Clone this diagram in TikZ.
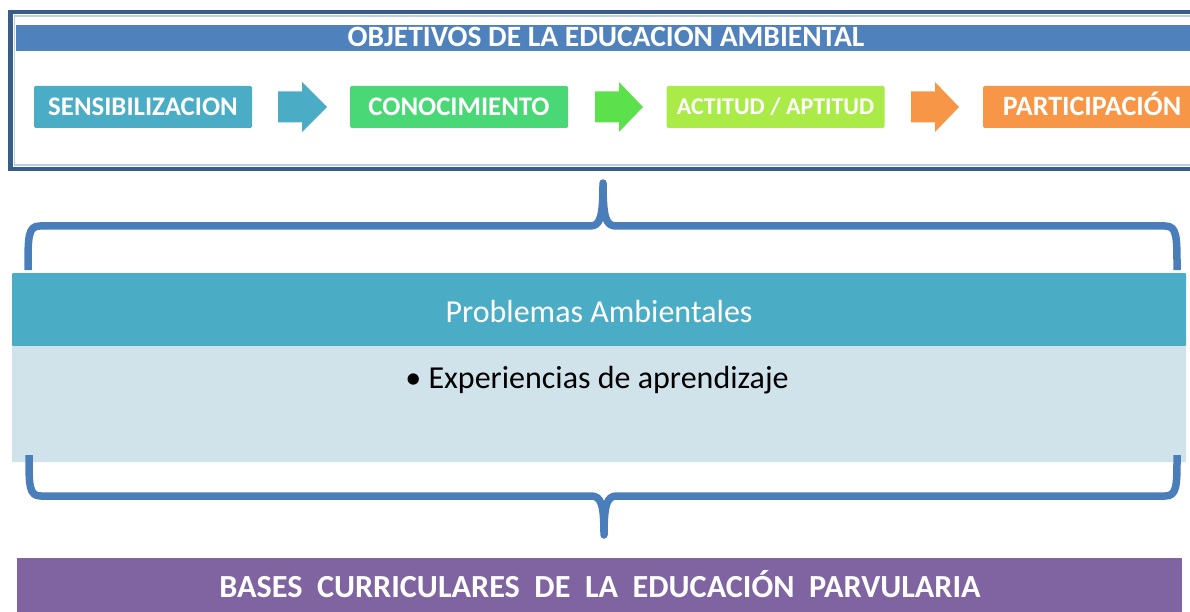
\documentclass[tikz,border=0pt]{standalone}
\usepackage{fontspec}
\setmainfont{Carlito}
\definecolor{frameblue}{HTML}{385D8A}
\definecolor{framelight}{HTML}{B9CDE5}
\definecolor{headblue}{HTML}{4F81BD}
\definecolor{teal}{HTML}{4BACC6}
\definecolor{cgreen}{HTML}{4AD775}
\definecolor{agreen}{HTML}{5CE04B}
\definecolor{lgreen}{HTML}{ABEB48}
\definecolor{orange}{HTML}{F79646}
\definecolor{bracecol}{HTML}{4A7EBB}
\definecolor{lightbox}{HTML}{D0E3EA}
\definecolor{purple}{HTML}{8064A2}
\begin{document}
\begin{tikzpicture}[x=1pt,y=-1pt,
  objbox/.style={rounded corners=1.5pt, inner sep=0pt, text=white,
    minimum width=218pt, minimum height=42pt, text height=17pt, text depth=0pt,
    font=\fontsize{26.8}{30}\selectfont\bfseries},
  bracepath/.style={draw=bracecol, line width=7.5pt, line join=round}
]
\useasboundingbox (0,0) rectangle (1190,612);
\clip (0,0) rectangle (1190,612);
% outer frame
\draw[framelight, line width=1.5pt] (14.5,16) rectangle (1210,165);
\draw[frameblue, line width=4.5pt] (10.5,12) rectangle (1210,169);
% header
\node[fill=headblue, inner sep=0pt, minimum width=1180pt, minimum height=26pt] (head) at (606,38) {};
\node[anchor=base, text=white, inner sep=0pt,
  font=\fontsize{29.5}{34}\selectfont\bfseries] (headt) at (606,47) {OBJETIVOS DE LA EDUCACION AMBIENTAL};
% objective boxes
\node[objbox, fill=teal] (sens) at (143,107) {SENSIBILIZACION};
\node[objbox, fill=cgreen] (cono) at (459,107) {CONOCIMIENTO};
\node[objbox, fill=lgreen, text height=15pt, font=\fontsize{24}{28}\selectfont\bfseries] (acti) at (775.5,107) {ACTITUD / APTITUD};
\node[objbox, fill=orange, font=\fontsize{28}{32}\selectfont\bfseries] (part) at (1092,107) {PARTICIPACIÓN};
% block arrows
\fill[teal] (278,91.5) -- (302,91.5) -- (302,82) -- (327,107) -- (302,132) -- (302,122.5) -- (278,122.5) -- cycle;
\fill[agreen] (595,91.5) -- (619,91.5) -- (619,82) -- (643,107) -- (619,132) -- (619,122.5) -- (595,122.5) -- cycle;
\fill[orange] (911,91.5) -- (935,91.5) -- (935,82) -- (959,107) -- (935,132) -- (935,122.5) -- (911,122.5) -- cycle;
% top brace
\coordinate (tl) at (28,270);
\coordinate (tr) at (1177,270);
\coordinate (tt) at (603,183);
\draw[bracepath] (tl) .. controls (28,236) and (28,226) .. (40,226) -- (590,226)
  .. controls (600,226) and (603,218) .. (tt)
  .. controls (603,218) and (606,226) .. (616,226) -- (1165,226)
  .. controls (1177,226) and (1177,236) .. (tr);
% problem boxes
\node[fill=teal, rounded corners=1pt, inner sep=0pt, minimum width=1174pt, minimum height=73pt] (prob) at (599,309.5) {};
\node[anchor=base, text=white, inner sep=0pt, font=\fontsize{32}{38}\selectfont] (probt) at (599,322) {Problemas Ambientales};
\node[fill=lightbox, rounded corners=1pt, inner sep=0pt, minimum width=1174pt, minimum height=116pt] (light) at (599,404) {};
\node[anchor=base, text=black, inner sep=0pt, font=\fontsize{32}{38}\selectfont] (exp) at (597,388) {• Experiencias de aprendizaje};
% bottom brace
\coordinate (bl) at (29,455);
\coordinate (br) at (1177,455);
\coordinate (bt) at (604,535);
\draw[bracepath] (bl) .. controls (29,486) and (29,496) .. (41,496) -- (591,496)
  .. controls (601,496) and (604,504) .. (bt)
  .. controls (604,504) and (607,496) .. (617,496) -- (1165,496)
  .. controls (1177,496) and (1177,486) .. (br);
% bottom bar
\node[fill=purple, inner sep=0pt, minimum width=1165pt, minimum height=60pt] (bases) at (599.5,588) {};
\node[anchor=base, text=white, inner sep=0pt, font=\fontsize{32.2}{38}\selectfont\bfseries] (basest) at (600,597) {BASES\ \ CURRICULARES\ \ DE\ \ LA\ \ EDUCACIÓN\ \ PARVULARIA};
\end{tikzpicture}
\end{document}
